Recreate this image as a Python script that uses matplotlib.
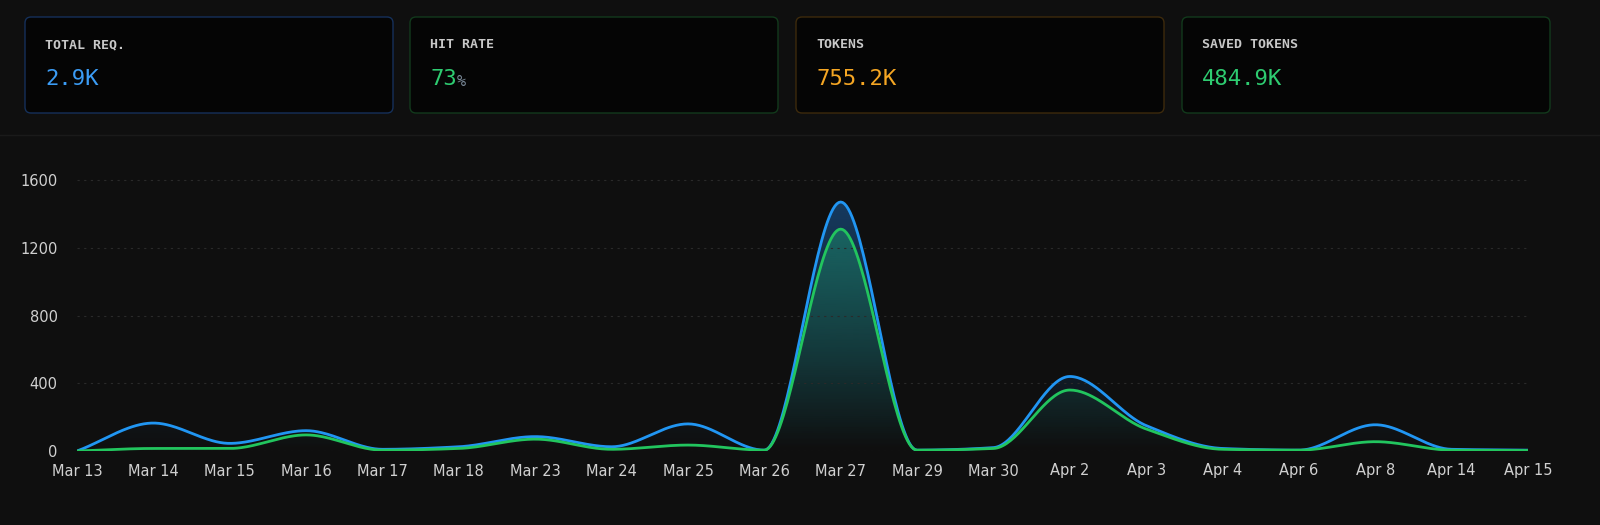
import numpy as np
import matplotlib
matplotlib.use("Agg")
import matplotlib.pyplot as plt
from matplotlib.patches import FancyBboxPatch, Polygon
from matplotlib.colors import LinearSegmentedColormap, to_rgba

labels = ["Mar 13","Mar 14","Mar 15","Mar 16","Mar 17","Mar 18","Mar 23","Mar 24","Mar 25","Mar 26",
          "Mar 27","Mar 29","Mar 30","Apr 2","Apr 3","Apr 4","Apr 6","Apr 8","Apr 14","Apr 15"]
requests = [0,165,45,120,10,25,85,25,160,5,1470,5,20,440,150,15,5,155,10,5]
hits = [0,15,15,95,5,15,70,10,35,5,1310,5,15,360,130,10,5,55,5,3]
card_titles = ["TOTAL REQ.","HIT RATE","TOKENS","SAVED TOKENS"]
card_values = ["2.9K","73","755.2K","484.9K"]
card_colors = ["#3b9cf5","#2ecc71","#f5a623","#2ecc71"]
card_borders = ["#15305a","#123a1c","#3d2a0c","#123a1c"]

def monotone(x, y, n=40):
    x = np.asarray(x, float); y = np.asarray(y, float)
    h = np.diff(x); d = np.diff(y)/h
    m = np.zeros_like(y)
    m[0], m[-1] = d[0], d[-1]
    for i in range(1, len(y)-1):
        if d[i-1]*d[i] <= 0: m[i] = 0
        else:
            w1 = 2*h[i]+h[i-1]; w2 = h[i]+2*h[i-1]
            m[i] = (w1+w2)/(w1/d[i-1]+w2/d[i])
    xs, ys = [], []
    for i in range(len(x)-1):
        t = np.linspace(0, 1, n, endpoint=False)
        h00 = 2*t**3-3*t**2+1; h10 = t**3-2*t**2+t; h01 = -2*t**3+3*t**2; h11 = t**3-t**2
        xs.append(x[i]+t*h[i])
        ys.append(h00*y[i]+h10*h[i]*m[i]+h01*y[i+1]+h11*h[i]*m[i+1])
    xs.append([x[-1]]); ys.append([y[-1]])
    return np.concatenate(xs), np.concatenate(ys)

W, H = 1600, 525
fig = plt.figure(figsize=(16, 5.25), dpi=100, facecolor="#0f0f0f")

bg = fig.add_axes([0, 0, 1, 1]); bg.set_xlim(0, W); bg.set_ylim(H, 0); bg.axis("off")
xs0 = [25, 410, 796, 1182]
for i, x0 in enumerate(xs0):
    bg.add_patch(FancyBboxPatch((x0, 17), 368, 96, boxstyle="round,pad=0,rounding_size=6",
                                fc="#050505", ec=card_borders[i], lw=1))
    bg.text(x0+20, 45, card_titles[i], color="#c8c8c8", fontsize=9.5, family="DejaVu Sans Mono",
            fontweight="bold", va="center")
    bg.text(x0+20, 79, card_values[i], color=card_colors[i], fontsize=16,
            family="DejaVu Sans Mono", va="center")
    if i == 1:
        bg.text(x0+20+27, 81, "%", color="#7a8a99", fontsize=11, family="DejaVu Sans Mono", va="center")
bg.plot([0, W], [135, 135], color="#1a1a1a", lw=1)

ax = fig.add_axes([77/W, 1-451/H, (1528-77)/W, (451-170)/H])
ax.set_facecolor("none")
x = np.arange(len(labels))
ax.set_xlim(0, len(labels)-1)
ax.set_ylim(0, 1600*(451-170)/(451-180))
for yv, col, lc in [(requests, "#1e6fc0", "#2196f3"), (hits, "#1f9e70", "#22c55e")]:
    sx, sy = monotone(x, yv)
    grad = np.linspace(0, 1, 256).reshape(-1, 1)
    c = to_rgba(col)
    cmap = LinearSegmentedColormap.from_list("g", [(c[0], c[1], c[2], 0.0), (c[0], c[1], c[2], 0.45)])
    im = ax.imshow(grad, extent=[0, len(labels)-1, 0, max(yv)], origin="lower", aspect="auto",
                   cmap=cmap, zorder=1)
    poly = Polygon(np.column_stack([np.r_[sx, sx[-1], sx[0]], np.r_[sy, 0, 0]]), transform=ax.transData)
    im.set_clip_path(poly)
    ax.plot(sx, sy, color=lc, lw=2, zorder=3, solid_capstyle="round")
ax.set_yticks([0, 400, 800, 1200, 1600])
ax.set_xticks(x)
ax.set_xticklabels(labels)
ax.grid(axis="y", color="#2a2a2a", ls=(0, (2, 4)), lw=0.8)
for s in ax.spines.values(): s.set_visible(False)
ax.tick_params(length=0, colors="#d0d0d0", labelsize=10.5)
ax.tick_params(axis="x", pad=9)
ax.tick_params(axis="y", pad=14)
fig.savefig("out.png", facecolor=fig.get_facecolor())
